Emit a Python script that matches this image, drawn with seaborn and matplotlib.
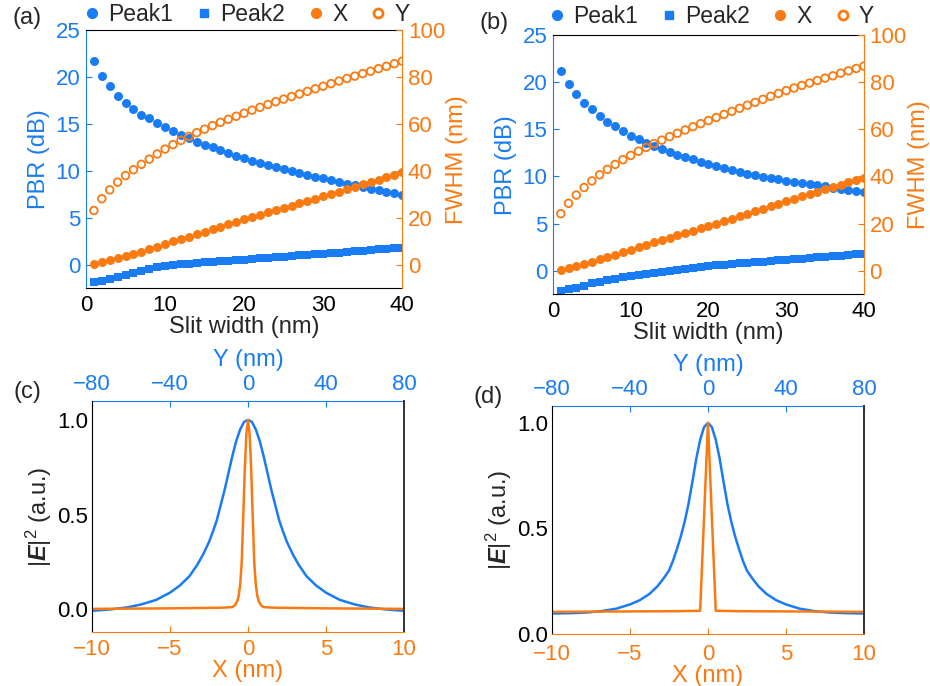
import matplotlib
matplotlib.use('Agg')
import matplotlib.pyplot as plt
from matplotlib.lines import Line2D
import seaborn as sns

BLUE = '#1a7cf2'
ORANGE = '#fa7a12'

# ---- data: PBR / FWHM vs slit width, panels (a) and (b)
slit_width = list(range(1, 41))

peak1_a = [21.7, 20.1, 19.0, 18.0, 17.2, 16.6, 16.0, 15.6, 15.1, 14.7,
           14.2, 13.8, 13.5, 13.1, 12.8, 12.5, 12.2, 11.9, 11.6, 11.35,
           11.1, 10.85, 10.6, 10.4, 10.2, 10.0, 9.8, 9.6, 9.4, 9.2,
           9.0, 8.8, 8.65, 8.5, 8.3, 8.1, 7.95, 7.8, 7.6, 7.45]
peak2_a = [-1.9, -1.75, -1.55, -1.3, -1.05, -0.85, -0.65, -0.5, -0.3, -0.15,
           -0.05, 0.05, 0.12, 0.2, 0.27, 0.33, 0.39, 0.44, 0.5, 0.55,
           0.62, 0.68, 0.74, 0.8, 0.86, 0.92, 0.98, 1.04, 1.1, 1.16,
           1.22, 1.29, 1.36, 1.43, 1.5, 1.56, 1.62, 1.68, 1.74, 1.8]
fwhm_x_a = [0.3, 1.2, 2.0, 2.9, 3.8, 4.7, 5.6, 6.6, 7.7, 8.8,
            9.9, 11.0, 12.0, 13.1, 14.1, 15.2, 16.2, 17.3, 18.3, 19.4,
            20.4, 21.3, 22.3, 23.2, 24.2, 25.2, 26.2, 27.2, 28.1, 29.1,
            30.1, 31.1, 32.2, 33.2, 34.2, 35.2, 36.3, 37.3, 38.4, 39.4]
fwhm_y_a = [23.1, 28.1, 31.9, 35.2, 38.0, 40.5, 42.8, 45.0, 47.2, 49.3,
            51.2, 53.0, 54.7, 56.3, 57.8, 59.3, 60.7, 62.0, 63.3, 64.6,
            65.9, 67.1, 68.3, 69.5, 70.6, 71.7, 72.8, 73.9, 75.0, 76.1,
            77.2, 78.3, 79.4, 80.4, 81.5, 82.5, 83.6, 84.6, 85.7, 86.8]

peak1_b = [21.2, 19.8, 18.7, 17.8, 17.1, 16.4, 15.8, 15.3, 14.8, 14.3,
           13.95, 13.55, 13.2, 12.9, 12.6, 12.3, 12.05, 11.8, 11.55, 11.3,
           11.1, 10.9, 10.7, 10.5, 10.3, 10.15, 9.95, 9.8, 9.7, 9.55,
           9.4, 9.3, 9.15, 9.05, 8.95, 8.8, 8.7, 8.6, 8.5, 8.4]
peak2_b = [-2.1, -1.95, -1.8, -1.6, -1.35, -1.15, -1.0, -0.85, -0.7, -0.55,
           -0.42, -0.3, -0.2, -0.1, 0.0, 0.1, 0.2, 0.3, 0.42, 0.52,
           0.58, 0.64, 0.71, 0.77, 0.83, 0.9, 0.96, 1.02, 1.09, 1.16,
           1.22, 1.28, 1.34, 1.41, 1.47, 1.53, 1.6, 1.66, 1.73, 1.8]
fwhm_x_b = [0.2, 1.1, 2.0, 2.9, 3.8, 4.8, 5.8, 6.8, 7.9, 9.0,
            10.0, 11.0, 12.0, 13.0, 14.0, 15.0, 16.0, 17.0, 18.0, 19.0,
            20.0, 21.0, 22.1, 23.2, 24.2, 25.3, 26.3, 27.4, 28.5, 29.5,
            30.5, 31.5, 32.5, 33.5, 34.5, 35.5, 36.5, 37.5, 38.5, 39.5]
fwhm_y_b = [24.2, 28.6, 32.1, 35.3, 38.1, 40.7, 43.0, 45.1, 47.1, 48.9,
            50.7, 52.3, 53.9, 55.4, 56.9, 58.3, 59.7, 61.1, 62.4, 63.7,
            65.0, 66.3, 67.6, 68.9, 70.2, 71.4, 72.7, 74.0, 75.2, 76.4,
            77.5, 78.6, 79.6, 80.7, 81.7, 82.7, 83.8, 84.8, 85.8, 86.8]

# ---- data: |E|^2 profiles, panels (c) and (d)
pos_y = [-80, -70, -62, -55, -47, -40, -35, -30, -26, -23, -20, -18, -16, -14,
         -12, -10, -8, -6, -4, -2, 0, 2, 4, 6, 8, 10, 12, 14, 16, 18, 20,
         23, 26, 30, 35, 40, 47, 55, 62, 70, 80]
field_y_c = [-0.008, 0.0, 0.01, 0.025, 0.05, 0.088, 0.125, 0.175, 0.235, 0.29,
             0.355, 0.41, 0.47, 0.55, 0.63, 0.72, 0.81, 0.89, 0.95, 0.99, 1.0,
             0.99, 0.95, 0.89, 0.81, 0.72, 0.63, 0.55, 0.47, 0.41, 0.355,
             0.29, 0.235, 0.175, 0.125, 0.088, 0.05, 0.025, 0.01, 0.0, -0.008]
field_y_d = [0.097, 0.099, 0.102, 0.108, 0.12, 0.14, 0.16, 0.19, 0.225, 0.26,
             0.3, 0.345, 0.4, 0.46, 0.53, 0.615, 0.72, 0.83, 0.92, 0.98, 1.0,
             0.98, 0.92, 0.83, 0.72, 0.615, 0.53, 0.46, 0.4, 0.345, 0.3,
             0.26, 0.225, 0.19, 0.16, 0.14, 0.12, 0.108, 0.102, 0.099, 0.097]

pos_x_c = [-10, -7, -5, -3, -2, -1.5, -1.0, -0.85, -0.7, -0.6, -0.5, -0.4, -0.3,
           -0.2, -0.1, 0, 0.1, 0.2, 0.3, 0.4, 0.5, 0.6, 0.7, 0.85, 1.0, 1.5,
           2, 3, 5, 7, 10]
field_x_c = [0.002, 0.004, 0.005, 0.007, 0.008, 0.009, 0.012, 0.02, 0.04, 0.07,
             0.13, 0.25, 0.5, 0.75, 0.93, 1.0, 0.93, 0.75, 0.5, 0.25, 0.13,
             0.07, 0.04, 0.02, 0.012, 0.009, 0.008, 0.007, 0.005, 0.004, 0.002]
pos_x_d = [-10, -5, -2, -0.5, 0, 0.5, 2, 5, 10]
field_x_d = [0.105, 0.107, 0.108, 0.11, 1.0, 0.11, 0.108, 0.107, 0.105]

sns.set_style('white')
plt.rcParams['font.family'] = ['Liberation Sans', 'DejaVu Sans']
plt.rcParams['mathtext.fontset'] = 'custom'
plt.rcParams['mathtext.rm'] = 'Liberation Sans'
plt.rcParams['mathtext.it'] = 'Liberation Sans:italic'
plt.rcParams['mathtext.bf'] = 'Liberation Sans:bold'
plt.rcParams['mathtext.bfit'] = 'Liberation Sans:italic:bold'

TICK = 16
LABEL = 17


def pbr_panel(fig, rect, peak1, peak2, fwhm_x, fwhm_y, tag, leg_y):
    ax = fig.add_axes(rect)
    ax2 = ax.twinx()
    sns.scatterplot(x=slit_width, y=peak1, ax=ax, color=BLUE, marker='o', s=42, linewidth=0)
    sns.scatterplot(x=slit_width, y=peak2, ax=ax, color=BLUE, marker='s', s=26, linewidth=0)
    sns.scatterplot(x=slit_width, y=fwhm_x, ax=ax2, color=ORANGE, marker='o', s=42, linewidth=0)
    sns.scatterplot(x=slit_width, y=fwhm_y, ax=ax2, marker='o', s=30,
                    facecolor='none', edgecolor=ORANGE, linewidth=1.3)

    ax.set_xlim(0, 40)
    ax.set_ylim(-2.5, 25)
    ax2.set_ylim(-10, 100)
    ax.set_xticks([0, 10, 20, 30, 40])
    ax.set_yticks([0, 5, 10, 15, 20, 25])
    ax2.set_yticks([0, 20, 40, 60, 80, 100])

    ax.set_xlabel('Slit width (nm)', fontsize=LABEL, labelpad=0)
    ax.set_ylabel('PBR (dB)', fontsize=LABEL, color=BLUE, labelpad=4)
    ax2.set_ylabel('FWHM (nm)', fontsize=LABEL, color=ORANGE, rotation=90, labelpad=1)

    ax.tick_params(axis='x', direction='in', length=4, labelsize=TICK, colors='black', pad=5)
    ax.tick_params(axis='y', direction='in', length=4, labelsize=TICK, colors=BLUE, pad=4)
    ax2.tick_params(axis='y', direction='in', length=4, labelsize=TICK, colors=ORANGE, pad=4)

    ax.spines['right'].set_visible(False)
    ax.spines['left'].set_color(BLUE)
    ax.spines['top'].set_color('black')
    ax.spines['bottom'].set_color('black')
    for s in ['left', 'top', 'bottom']:
        ax2.spines[s].set_visible(False)
    ax2.spines['right'].set_color(ORANGE)

    handles = [
        Line2D([], [], ls='', marker='o', ms=7, color=BLUE, mec=BLUE),
        Line2D([], [], ls='', marker='s', ms=5.5, color=BLUE, mec=BLUE),
        Line2D([], [], ls='', marker='o', ms=7, color=ORANGE, mec=ORANGE),
        Line2D([], [], ls='', marker='o', ms=6.5, mfc='none', mec=ORANGE, mew=2),
    ]
    ax2.legend(handles, ['Peak1', 'Peak2', 'X', 'Y'], loc='center',
               bbox_to_anchor=(0.5, leg_y), ncol=4, frameon=False, fontsize=16.5,
               handletextpad=0.1, columnspacing=0.75, handlelength=1.2, borderaxespad=0)
    fig.text(rect[0] - 0.063, rect[1] + rect[3] + 0.018, tag, fontsize=17, ha='center', va='center')
    return ax


def field_panel(fig, rect, field_y, pos_x, field_x, ylim, tag, xpad):
    ax = fig.add_axes(rect)
    top = ax.twiny()
    sns.lineplot(x=pos_y, y=field_y, ax=top, color=BLUE, lw=1.8)
    sns.lineplot(x=pos_x, y=field_x, ax=ax, color=ORANGE, lw=1.8)
    ax.set_zorder(top.get_zorder() + 1)
    ax.patch.set_visible(False)

    ax.set_xlim(-10, 10)
    top.set_xlim(-80, 80)
    ax.set_ylim(*ylim)
    top.set_ylim(*ylim)
    ax.set_xticks([-10, -5, 0, 5, 10])
    top.set_xticks([-80, -40, 0, 40, 80])
    ax.set_yticks([0.0, 0.5, 1.0])
    ax.set_yticklabels(['0.0', '0.5', '1.0'])

    ax.set_xlabel('X (nm)', fontsize=LABEL, color=ORANGE, labelpad=0)
    top.set_xlabel('Y (nm)', fontsize=LABEL, color=BLUE, labelpad=6)
    ax.set_ylabel(r'$|\mathbfit{E}|^2$ (a.u.)', fontsize=LABEL, labelpad=2)

    ax.tick_params(axis='x', direction='in', length=4, labelsize=TICK, colors=ORANGE, pad=xpad)
    ax.tick_params(axis='y', direction='in', length=4, labelsize=TICK, colors='black', pad=3)
    top.tick_params(axis='x', direction='in', length=4, labelsize=TICK, colors=BLUE, pad=4)
    top.tick_params(axis='y', left=False, right=False, labelleft=False, labelright=False)

    ax.spines['top'].set_visible(False)
    ax.spines['bottom'].set_color(ORANGE)
    ax.spines['left'].set_color('black')
    ax.spines['right'].set_color('#333333')
    ax.spines['right'].set_linewidth(1.4)
    for s in ['left', 'right', 'bottom']:
        top.spines[s].set_visible(False)
    top.spines['top'].set_color(BLUE)
    fig.text(rect[0] - 0.069, rect[1] + rect[3] + 0.013, tag, fontsize=17, ha='center', va='center')
    return ax


fig = plt.figure(figsize=(9.3, 6.86), dpi=100)

pbr_panel(fig, [0.0925, 0.580, 0.340, 0.376], peak1_a, peak2_a, fwhm_x_a, fwhm_y_a, '(a)', 1.06)
pbr_panel(fig, [0.5946, 0.571, 0.3344, 0.378], peak1_b, peak2_b, fwhm_x_b, fwhm_y_b, '(b)', 1.07)
field_panel(fig, [0.0989, 0.0787, 0.3355, 0.3367], field_y_c, pos_x_c, field_x_c, (-0.12, 1.1), '(c)', 5)
field_panel(fig, [0.5935, 0.0758, 0.3355, 0.3324], field_y_d, pos_x_d, field_x_d, (0.0, 1.08), '(d)', 7)

fig.savefig('out.png', dpi=100)
